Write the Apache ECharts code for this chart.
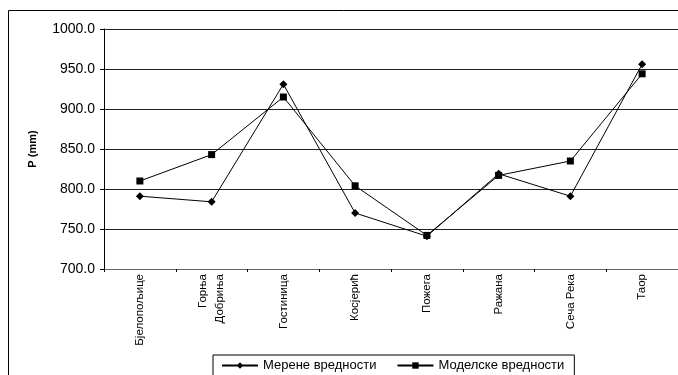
<!DOCTYPE html>
<html>
<head>
<meta charset="utf-8">
<script src="https://cdn.jsdelivr.net/npm/echarts@6/dist/echarts.min.js"></script>
<style>
  html, body { margin: 0; padding: 0; background: #fff; }
  #chart { width: 678px; height: 375px; }
</style>
</head>
<body>
<div id="chart"></div>
<script>
// Stations along the x axis
const stations = ['Бјелопољице', 'Горња\nДобриња', 'Гостиница', 'Косјерић', 'Пожега', 'Ражана', 'Сеча Река', 'Таор'];
// Measured precipitation (mm)
const measured = [791, 784, 931, 770, 741, 819, 791, 956];
// Model precipitation (mm)
const modelled = [810, 843, 915, 804, 742, 817, 835, 944];
const seriesNames = ['Мерене вредности', 'Моделске вредности'];
const yMin = 700, yMax = 1000, yStep = 50;

const chart = echarts.init(document.getElementById('chart'), null, { renderer: 'canvas' });
const font = 'Arial, "Liberation Sans", sans-serif';

chart.setOption({
  animation: false,
  backgroundColor: '#fff',
  textStyle: { fontFamily: font, color: '#000' },
  graphic: [{
    type: 'rect',
    shape: { x: 8.5, y: 10.5, width: 700, height: 400 },
    style: { fill: 'none', stroke: '#000', lineWidth: 1 },
    z: -1
  }],
  grid: { left: 104, top: 29, width: 576, height: 240 },
  legend: {
    left: 213, top: 355,
    padding: [4, 10, 6, 8],
    borderColor: '#000', borderWidth: 1,
    itemWidth: 36, itemHeight: 8, itemGap: 20,
    textStyle: { fontFamily: font, fontSize: 13, color: '#000' },
    data: seriesNames
  },
  xAxis: {
    type: 'category',
    data: stations,
    boundaryGap: true,
    axisLine: { lineStyle: { color: '#666', width: 1 } },
    axisTick: { show: true, length: 3, lineStyle: { color: '#000' } },
    axisLabel: { rotate: 90, fontSize: 11.5, color: '#000', margin: 5, fontFamily: font, lineHeight: 17 }
  },
  yAxis: {
    type: 'value',
    min: yMin, max: yMax, interval: yStep,
    name: 'P (mm)',
    nameLocation: 'middle',
    nameGap: 66,
    nameTextStyle: { fontFamily: font, fontSize: 11, fontWeight: 'bold', color: '#000' },
    axisLine: { show: true, lineStyle: { color: '#000', width: 1 } },
    axisTick: { show: true, length: 4, lineStyle: { color: '#000' } },
    axisLabel: { formatter: v => v.toFixed(1), fontSize: 14, color: '#000', margin: 9, fontFamily: font },
    splitLine: { lineStyle: { color: '#222', width: 1 } }
  },
  series: [
    {
      name: seriesNames[0], type: 'line', data: measured,
      symbol: 'diamond', symbolSize: 8,
      lineStyle: { color: '#000', width: 1 },
      itemStyle: { color: '#000' }
    },
    {
      name: seriesNames[1], type: 'line', data: modelled,
      symbol: 'rect', symbolSize: 7,
      lineStyle: { color: '#000', width: 1 },
      itemStyle: { color: '#000' }
    }
  ]
});
</script>
</body>
</html>
